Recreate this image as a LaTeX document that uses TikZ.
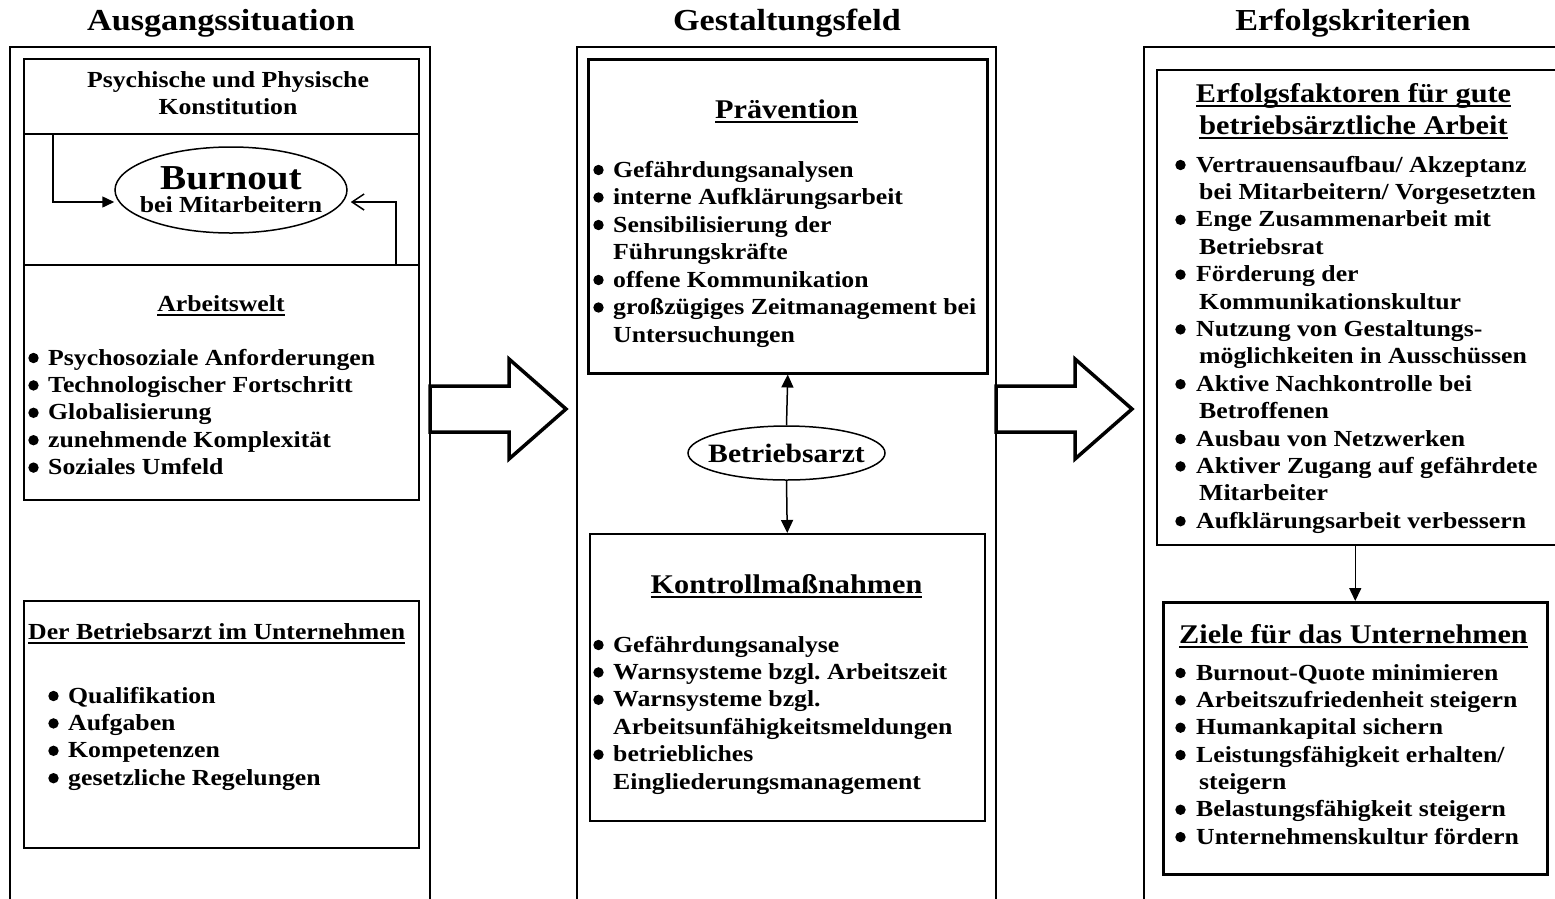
\documentclass[tikz,border=0pt]{standalone}
\usepackage{fontspec}
\setmainfont{Liberation Serif}[FakeStretch=1.12]
\usetikzlibrary{shapes.geometric,arrows.meta}
\frenchspacing
\newcommand{\myul}[1]{\setbox0\hbox{#1}\rlap{\rule[-4.5pt]{\wd0}{1.3pt}}\box0}
\newcommand{\indB}{\hspace*{3pt}}
\begin{document}
\begin{tikzpicture}[x=1pt,y=-1pt,
  txt/.style={font=\bfseries\fontsize{23}{27}\selectfont, inner sep=0pt},
  head/.style={font=\bfseries\fontsize{27}{30}\selectfont, inner sep=0pt},
  title/.style={font=\bfseries\fontsize{30.5}{33}\selectfont, inner sep=0pt},
  box/.style={draw, line width=1.5pt, rectangle, inner sep=0pt, anchor=north west},
  thickbox/.style={box, line width=2.5pt},
  col/.style={line width=1.8pt},
  bigarrow/.style={line width=3.5pt, line join=miter},
  con/.style={line width=1.5pt},
  dotfill/.style={fill=black},
  oval/.style={draw, ellipse, line width=1.5pt, inner sep=0pt, align=center}]
\useasboundingbox (0,0) rectangle (1555,898);
\clip (0,0) rectangle (1555,898);

% titles
\node[title, anchor=base] (t1) at (221,30) {Ausgangssituation};
\node[title, anchor=base] (t2) at (787,30) {Gestaltungsfeld};
\node[title, anchor=base] (t3) at (1353,30) {Erfolgskriterien};

% columns
\draw[col] (10,900) -- (10,47) -- (430,47) -- (430,900);
\draw[col] (577,900) -- (577,47) -- (996,47) -- (996,900);
\draw[col] (1144,900) -- (1144,47) -- (1560,47);

% big arrows
\draw[bigarrow] (430,386) -- (509,386) -- (509,359) -- (566,409) -- (509,459) -- (509,432) -- (430,432) -- cycle;
\draw[bigarrow] (996,386) -- (1075,386) -- (1075,359) -- (1132,409) -- (1075,459) -- (1075,432) -- (996,432) -- cycle;

% ---------- left column
\node[box, minimum width=395, minimum height=206] (psy) at (23,58) {};
\coordinate (sepL) at (23,134);
\coordinate (sepR) at (418,134);
\draw[con] (sepL) -- (sepR);
\node[txt, anchor=base] (psyh1) at (228,87) {Psychische und Physische};
\node[txt, anchor=base] (psyh2) at (228,114) {Konstitution};
\node[oval, minimum width=232, minimum height=86, font=\bfseries\fontsize{23}{23}\selectfont] (burn) at (231,190)
  {\makebox[0pt]{\fontsize{35}{35}\selectfont Burnout}\\\makebox[0pt]{bei Mitarbeitern}};
\coordinate (a1s) at (53,134);
\coordinate (a2s) at (396,264);
\draw[con, -{Triangle[length=12pt,width=11pt]}] (a1s) |- ([yshift=-12pt]burn.west);
\draw[con, -{Straight Barb[length=12pt,width=16pt]}] (a2s) |- ([xshift=3pt,yshift=-12pt]burn.east);

\node[box, minimum width=395, minimum height=235] (aw) at (23,264) {};
\node[txt, anchor=base] (awh) at (221,311) {\myul{Arbeitswelt}};
\foreach \t [count=\i from 0] in {Psychosoziale Anforderungen,Technologischer Fortschritt,Globalisierung,zunehmende Komplexität,Soziales Umfeld}
  \node[txt, anchor=base west] (awl\i) at (48,{365+27.4*\i}) {\t};
\foreach \i in {0,...,4} \fill[dotfill] (33.5,{365+27.4*\i-7}) circle[radius=5.2pt];

\node[box, minimum width=395, minimum height=247] (ba) at (23,600) {};
\node[txt, anchor=base west] (bah) at (28,639) {\myul{Der Betriebsarzt im Unternehmen}};
\foreach \t [count=\i from 0] in {Qualifikation,Aufgaben,Kompetenzen,gesetzliche Regelungen}
  \node[txt, anchor=base west] (bal\i) at (68,{703+27.4*\i}) {\t};
\foreach \i in {0,...,3} \fill[dotfill] (53.5,{703+27.4*\i-7}) circle[radius=5.2pt];

% ---------- middle column
\node[thickbox, minimum width=399, minimum height=314] (prav) at (587,58) {};
\node[head, anchor=base] (pravh) at (786.5,118) {\myul{Prävention}};
\foreach \t [count=\i from 0] in {Gefährdungsanalysen,interne Aufklärungsarbeit,Sensibilisierung der,Führungskräfte,offene Kommunikation,großzügiges Zeitmanagement bei,Untersuchungen}
  \node[txt, anchor=base west] (pl\i) at (613,{177+27.5*\i}) {\t};
\foreach \i in {0,1,2,4,5} \fill[dotfill] (598.5,{177+27.5*\i-7}) circle[radius=5.2pt];

\node[oval, minimum width=197, minimum height=54, font=\bfseries\fontsize{26.5}{28}\selectfont] (arzt) at (786.5,453) {\makebox[0pt]{Betriebsarzt}};

\node[box, minimum width=395, minimum height=287] (kon) at (589,533) {};
\node[head, anchor=base] (konh) at (786.5,593) {\myul{Kontrollmaßnahmen}};
\foreach \t [count=\i from 0] in {Gefährdungsanalyse,Warnsysteme bzgl. Arbeitszeit,Warnsysteme bzgl.,Arbeitsunfähigkeitsmeldungen,betriebliches,Eingliederungsmanagement}
  \node[txt, anchor=base west] (kl\i) at (613,{652+27.4*\i}) {\t};
\foreach \i in {0,1,2,4} \fill[dotfill] (598.5,{652+27.4*\i-7}) circle[radius=5.2pt];

\draw[con, -{Triangle[length=13pt,width=12pt]}] (arzt.north) -- (prav.south);
\draw[con, -{Triangle[length=13pt,width=12pt]}] (arzt.south) -- (kon.north);

% ---------- right column
\node[box, minimum width=420, minimum height=475] (erf) at (1156,69) {};
\node[head, anchor=base] (erfh1) at (1353.5,102) {\myul{Erfolgsfaktoren für gute}};
\node[head, anchor=base] (erfh2) at (1353.5,134) {\myul{betriebsärztliche Arbeit}};
\foreach \t [count=\i from 0] in {Vertrauensaufbau/ Akzeptanz,{\indB bei Mitarbeitern/ Vorgesetzten},Enge Zusammenarbeit mit,{\indB Betriebsrat},Förderung der,{\indB Kommunikationskultur},Nutzung von Gestaltungs-,{\indB möglichkeiten in Ausschüssen},Aktive Nachkontrolle bei,{\indB Betroffenen},Ausbau von Netzwerken,Aktiver Zugang auf gefährdete,{\indB Mitarbeiter},Aufklärungsarbeit verbessern}
  \node[txt, anchor=base west] (el\i) at (1196,{172+27.4*\i}) {\t};
\foreach \i in {0,2,4,6,8,10,11,13} \fill[dotfill] (1180.5,{172+27.4*\i-7}) circle[radius=5.2pt];

\node[thickbox, minimum width=384, minimum height=272] (ziel) at (1162,601) {};
\draw[con, -{Triangle[length=13pt,width=12pt]}] (ziel.north |- erf.south) -- (ziel.north);
\node[head, anchor=base] (zielh) at (1353.5,643) {\myul{Ziele für das Unternehmen}};
\foreach \t [count=\i from 0] in {Burnout-Quote minimieren,Arbeitszufriedenheit steigern,Humankapital sichern,Leistungsfähigkeit erhalten/,{\indB steigern},Belastungsfähigkeit steigern,Unternehmenskultur fördern}
  \node[txt, anchor=base west] (zl\i) at (1196,{680+27.35*\i}) {\t};
\foreach \i in {0,1,2,3,5,6} \fill[dotfill] (1180.5,{680+27.35*\i-7}) circle[radius=5.2pt];
\end{tikzpicture}
\end{document}
